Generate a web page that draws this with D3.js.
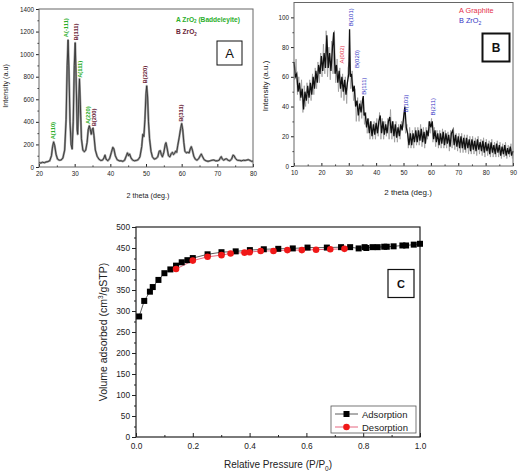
<!DOCTYPE html>
<html><head><meta charset="utf-8">
<script src="https://cdn.jsdelivr.net/npm/d3@7"></script>
<style>
body{margin:0;background:#fff;}
svg{display:block;font-family:"Liberation Sans",Arial,sans-serif;}
.tick text{font-family:"Liberation Sans",Arial,sans-serif;fill:#222;}
</style></head>
<body><svg id="c" width="520" height="475"></svg>
<script>
// ---------- Panel A : XRD ZrO2 ----------
const aTheta = [20.0,20.5,21.0,21.5,22.0,22.5,23.0,23.5,23.8,24.1,24.4,24.8,25.2,25.7,26.2,26.7,27.2,27.6,27.9,28.15,28.4,28.7,29.0,29.3,29.6,29.9,30.15,30.4,30.7,30.85,31.1,31.35,31.6,31.9,32.3,32.7,33.1,33.5,33.8,34.1,34.4,34.65,34.9,35.15,35.4,35.8,36.3,36.8,37.3,37.8,38.2,38.5,38.8,39.3,39.8,40.3,40.7,41.0,41.4,41.9,42.5,43.0,43.5,44.0,44.5,44.8,45.1,45.4,45.8,46.3,46.8,47.3,47.8,48.3,48.8,49.1,49.4,49.7,50.0,50.2,50.45,50.7,51.0,51.4,51.8,52.3,52.8,53.3,53.7,54.0,54.3,54.6,55.0,55.4,55.6,55.9,56.3,56.7,57.1,57.4,57.7,58.0,58.3,58.6,58.9,59.3,59.7,60.0,60.3,60.6,60.9,61.3,61.7,62.1,62.4,62.7,63.0,63.4,63.8,64.3,64.8,65.2,65.5,65.8,66.3,66.8,67.4,68.0,68.5,69.0,69.5,70.0,70.5,70.9,71.1,71.4,71.8,72.2,72.6,73.0,73.5,74.0,74.4,74.7,75.1,75.6,76.2,76.8,77.3,77.8,78.3,78.7,79.2,79.6,80.0];
const aIntensity = [40,35,42,38,45,48,55,100,180,222,190,110,70,60,62,80,150,420,900,1125,850,400,200,160,400,900,1100,800,330,290,550,780,550,250,150,135,150,220,330,365,330,290,330,345,280,150,95,70,58,60,80,105,70,55,75,130,175,160,100,65,55,55,50,60,100,125,100,115,80,60,55,58,65,90,180,290,270,420,650,718,620,400,250,140,90,70,75,90,140,145,110,90,130,200,215,170,100,90,120,130,110,120,140,130,190,260,340,385,330,220,140,125,130,125,160,180,150,95,70,60,75,100,115,95,65,55,50,55,60,62,55,55,60,85,92,70,60,70,72,60,55,70,105,100,75,60,58,55,60,58,62,65,58,50,52];
const aLabels = ["A(110)","A(-111)","B(111)","A(111)","A(220)","B(200)","B(220)","B(311)"];
const aLabelTheta = [23.9,27.5,30.4,31.6,33.6,35.4,49.6,59.8];
const aLabelInt = [245,1150,1120,790,380,360,740,400];
const aLabelPhase = ["A","A","B","A","A","B","B","B"];
const aLegend = ["A","B"];
const aYTicks = [0,200,400,600,800,1000,1200,1400];
const aXTicks = [20,30,40,50,60,70,80];

// ---------- Panel B : XRD composite ----------
const bTheta = [10.0,10.5,11.0,11.5,12.0,12.5,13.0,13.5,14.0,14.5,15.0,15.5,16.0,16.5,17.0,17.5,18.0,18.5,19.0,19.5,20.0,20.5,21.0,21.5,22.0,22.5,23.0,23.5,24.0,24.5,25.0,25.5,26.0,26.5,27.0,27.5,28.0,28.5,29.0,29.5,30.0,30.3,30.6,31.0,31.5,32.0,32.5,33.0,33.5,34.0,34.5,35.0,35.3,35.6,36.0,36.5,37.0,37.5,38.0,38.5,39.0,39.5,40.0,40.5,41.0,41.5,42.0,42.5,43.0,43.5,44.0,44.5,45.0,45.5,46.0,46.5,47.0,47.5,48.0,48.5,49.0,49.5,50.0,50.5,51.0,51.5,52.0,52.5,53.0,53.5,54.0,54.5,55.0,55.5,56.0,56.5,57.0,57.5,58.0,58.5,59.0,59.5,60.0,60.5,61.0,61.5,62.0,62.5,63.0,63.5,64.0,64.5,65.0,65.5,66.0,66.5,67.0,67.5,68.0,68.5,69.0,69.5,70.0,70.5,71.0,71.5,72.0,72.5,73.0,73.5,74.0,74.5,75.0,75.5,76.0,76.5,77.0,77.5,78.0,78.5,79.0,79.5,80.0,80.5,81.0,81.5,82.0,82.5,83.0,83.5,84.0,84.5,85.0,85.5,86.0,86.5,87.0,87.5,88.0,88.5,89.0,89.5,90.0];
const bIntensity = [70,60,62,50,56,46,52,38,50,44,54,46,56,48,60,52,64,56,68,62,74,64,76,66,88,66,76,64,78,90,62,68,56,64,52,60,50,58,48,56,62,92,60,62,50,54,40,44,34,42,36,44,47,34,36,26,32,22,30,20,28,21,29,22,30,34,22,30,21,28,22,30,33,22,30,20,28,19,26,20,28,24,32,40,26,22,14,22,14,22,16,24,16,24,17,25,16,23,15,24,20,30,26,30,18,24,16,22,14,22,15,23,14,22,15,21,13,22,24,14,21,13,20,12,20,12,19,11,19,12,18,10,18,11,17,10,18,11,16,10,17,9,16,10,15,8,16,9,14,8,15,9,14,7,13,8,14,7,12,8,13,7,10];
// lighter, spikier companion trace (grey)
const bThetaGrey = [10.25,10.75,11.25,11.75,12.25,12.75,13.25,13.75,14.25,14.75,15.25,15.75,16.25,16.75,17.25,17.75,18.25,18.75,19.25,19.75,20.25,20.75,21.25,21.75,22.25,22.75,23.25,23.75,24.25,24.75,25.25,25.75,26.25,26.75,27.25,27.75,28.25,28.75,29.25,29.75,30.25,30.75,31.25,31.75,32.25,32.75,33.25,33.75,34.25,34.75,35.25,35.75,36.25,36.75,37.25,37.75,38.25,38.75,39.25,39.75,40.25,40.75,41.25,41.75,42.25,42.75,43.25,43.75,44.25,44.75,45.25,45.75,46.25,46.75,47.25,47.75,48.25,48.75,49.25,49.75,50.25,50.75,51.25,51.75,52.25,52.75,53.25,53.75,54.25,54.75,55.25,55.75,56.25,56.75,57.25,57.75,58.25,58.75,59.25,59.75,60.25,60.75,61.25,61.75,62.25,62.75,63.25,63.75,64.25,64.75,65.25,65.75,66.25,66.75,67.25,67.75,68.25,68.75,69.25,69.75,70.25,70.75,71.25,71.75,72.25,72.75,73.25,73.75,74.25,74.75,75.25,75.75,76.25,76.75,77.25,77.75,78.25,78.75,79.25,79.75,80.25,80.75,81.25,81.75,82.25,82.75,83.25,83.75,84.25,84.75,85.25,85.75,86.25,86.75,87.25,87.75,88.25,88.75,89.25,89.75];
const bIntensityGrey = [58,72,48,60,44,58,36,54,40,56,42,58,44,62,48,66,52,70,56,76,60,82,62,91,60,80,58,84,62,91,56,72,50,66,46,62,44,60,42,66,70,52,64,44,52,30,46,30,44,32,46,28,36,22,32,18,30,18,30,18,32,20,36,18,32,18,30,20,32,18,38,18,30,16,30,16,28,18,30,26,36,22,28,12,26,12,24,12,26,14,26,14,28,13,26,12,26,18,30,22,32,16,26,13,24,12,24,12,25,12,24,12,23,10,24,12,26,11,22,10,22,9,22,9,21,9,21,8,20,8,20,8,19,7,20,8,18,7,19,6,18,7,17,6,18,6,16,6,17,6,16,5,15,6,16,5,14,6,15,5];
const bLabels = ["A(002)","B(101)","B(020)","B(111)","B(103)","B(211)"];
const bLabelTheta = [27.4,30.7,32.9,35.6,50.8,60.7];
const bLabelInt = [69,94,66,48,36,34];
const bLabelPhase = ["A","B","B","B","B","B"];
const bYTicks = [0,20,40,60,80,100];
const bXTicks = [10,20,30,40,50,60,70,80,90];

// ---------- Panel C : N2 isotherm ----------
const adsP = [0.011,0.029,0.049,0.059,0.079,0.100,0.121,0.141,0.161,0.181,0.200,0.252,0.301,0.351,0.401,0.450,0.501,0.552,0.604,0.672,0.722,0.754,0.784,0.805,0.811,0.833,0.851,0.874,0.883,0.907,0.938,0.951,0.978,1.000];
const adsV = [287,324,346,357,374,390,399,408,416,421,426,435,440,442,445,447,448,449,451,451,452,452,449,452,450,452,452,453,453,454,456,456,458,460];
const desP = [0.141,0.200,0.252,0.301,0.333,0.382,0.400,0.439,0.484,0.533,0.584,0.634,0.684,0.734];
const desV = [400,420,429,433,437,439,440,443,443,445,445,446,447,448];
const cSeries = ["Adsorption","Desorption"];
const cYTicks = [0,50,100,150,200,250,300,350,400,450,500];
const cXTicks = [0.0,0.2,0.4,0.6,0.8,1.0];

const svg = d3.select("#c");
const GREEN="#2aae2a", MAROON="#6a2538", RED="#e5304a", BLUE="#3434c4";

function frameAxes(g, x, y, o){
  const [x0,x1]=x.range(), [y1,y0]=y.range();
  g.append("g").attr("transform",`translate(0,${y1})`)
    .call(d3.axisBottom(x).tickValues(o.xMinor).tickSize(-o.minor).tickFormat(""))
    .call(s=>s.select(".domain").remove()).selectAll("line").attr("stroke","#222");
  g.append("g").attr("transform",`translate(${x0},0)`)
    .call(d3.axisLeft(y).tickValues(o.yMinor).tickSize(o.minor).tickFormat(""))
    .call(s=>s.select(".domain").remove()).selectAll("line").attr("stroke","#222");
  const xa = g.append("g").attr("transform",`translate(0,${y1})`)
    .call(d3.axisBottom(x).tickValues(o.xTicks).tickSize(-o.major).tickPadding(o.major+o.pad).tickFormat(o.xFmt));
  xa.select(".domain").remove();
  xa.selectAll("text").attr("font-size",o.fs).attr("fill","#222");
  xa.selectAll("line").attr("stroke","#222");
  const ya = g.append("g").attr("transform",`translate(${x0},0)`)
    .call(d3.axisLeft(y).tickValues(o.yTicks).tickSize(o.major).tickPadding(o.pad).tickFormat(o.yFmt||d3.format("d")));
  ya.select(".domain").remove();
  ya.selectAll("text").attr("font-size",o.fs).attr("fill","#222");
  ya.selectAll("line").attr("stroke","#222");
  g.append("rect").attr("x",x0).attr("y",y0).attr("width",x1-x0).attr("height",y1-y0)
    .attr("fill","none").attr("stroke",o.frame||"#333").attr("stroke-width",o.fw||1);
}

// ===== Panel A =====
{
  const g = svg.append("g");
  const x = d3.scaleLinear().domain([20,80]).range([39,253]);
  const y = d3.scaleLinear().domain([0,1400]).range([167,9]);
  const line = d3.line().x(i=>x(aTheta[i])).y(i=>y(aIntensity[i]));
  g.append("path").attr("d",line(d3.range(aTheta.length))).attr("fill","none")
    .attr("stroke","#999").attr("stroke-width",2.2).attr("stroke-linejoin","round");
  g.append("path").attr("d",line(d3.range(aTheta.length))).attr("fill","none")
    .attr("stroke","#333").attr("stroke-width",0.9).attr("stroke-linejoin","round");
  frameAxes(g,x,y,{xTicks:aXTicks,yTicks:aYTicks,xMinor:d3.range(25,80,10),yMinor:d3.range(100,1400,200),
    major:3,minor:1.5,pad:2,fs:6.3,xFmt:d3.format("d"),frame:"#666"});
  g.append("text").attr("x",148).attr("y",198).attr("text-anchor","middle").attr("font-size",7.2).attr("fill","#222").text("2 theta (deg.)");
  g.append("text").attr("transform","translate(8,86) rotate(-90)").attr("text-anchor","middle").attr("font-size",7.2).attr("fill","#222").text("Intensity (a.u)");
  aLabels.forEach((t,i)=>{
    g.append("text").attr("transform",`translate(${x(aLabelTheta[i])+2},${y(aLabelInt[i])}) rotate(-90)`)
      .attr("font-size",5.8).attr("font-weight","bold").attr("fill",aLabelPhase[i]==="A"?GREEN:MAROON).text(t);
  });
  const la = g.append("text").attr("x",176).attr("y",21.5).attr("font-size",6.6).attr("font-weight","bold").attr("fill",GREEN);
  la.append("tspan").text(aLegend[0]+"  ZrO");
  la.append("tspan").attr("font-size",4.5).attr("dy",1.8).text("2");
  la.append("tspan").attr("dy",-1.8).text(" (Baddeleyite)");
  const lb = g.append("text").attr("x",176).attr("y",34).attr("font-size",6.6).attr("font-weight","bold").attr("fill",MAROON);
  lb.append("tspan").text(aLegend[1]+"  ZrO");
  lb.append("tspan").attr("font-size",4.5).attr("dy",1.8).text("2");
  g.append("rect").attr("x",217).attr("y",41).attr("width",25).attr("height",24).attr("fill","#fff").attr("stroke","#111").attr("stroke-width",1);
  g.append("text").attr("x",229.5).attr("y",58).attr("text-anchor","middle").attr("font-size",13).attr("fill","#111").text("A");
}

// ===== Panel B =====
{
  const g = svg.append("g");
  const x = d3.scaleLinear().domain([10,90]).range([294,513]);
  const y = d3.scaleLinear().domain([0,110]).range([166,2.5]);
  const greyLine = d3.line().x(i=>x(bThetaGrey[i])).y(i=>y(bIntensityGrey[i]));
  g.append("path").attr("d",greyLine(d3.range(bThetaGrey.length))).attr("fill","none")
    .attr("stroke","#9a9a9a").attr("stroke-width",0.8);
  const line = d3.line().x(i=>x(bTheta[i])).y(i=>y(bIntensity[i]));
  g.append("path").attr("d",line(d3.range(bTheta.length))).attr("fill","none")
    .attr("stroke","#111").attr("stroke-width",1.3);
  frameAxes(g,x,y,{xTicks:bXTicks,yTicks:bYTicks,xMinor:d3.range(15,90,10),yMinor:d3.range(10,110,20),
    major:3,minor:1.5,pad:2,fs:6.3,xFmt:d3.format("d"),frame:"#666"});
  g.append("text").attr("x",408).attr("y",195).attr("text-anchor","middle").attr("font-size",8).attr("fill","#222").text("2 theta (deg.)");
  g.append("text").attr("transform","translate(268,86) rotate(-90)").attr("text-anchor","middle").attr("font-size",8).attr("fill","#222").text("Intensity (a.u.)");
  bLabels.forEach((t,i)=>{
    g.append("text").attr("transform",`translate(${x(bLabelTheta[i])+2},${y(bLabelInt[i])}) rotate(-90)`)
      .attr("font-size",6).attr("fill",bLabelPhase[i]==="A"?RED:BLUE).text(t);
  });
  g.append("text").attr("x",459).attr("y",12.5).attr("font-size",7.3).attr("fill",RED).text("A Graphite");
  const lb = g.append("text").attr("x",459).attr("y",23).attr("font-size",7.3).attr("fill",BLUE);
  lb.append("tspan").text("B  ZrO");
  lb.append("tspan").attr("font-size",5).attr("dy",2).text("2");
  g.append("rect").attr("x",482.5).attr("y",33.5).attr("width",27).attr("height",28).attr("fill","#fff").attr("stroke","#111").attr("stroke-width",2);
  g.append("text").attr("x",496).attr("y",52).attr("text-anchor","middle").attr("font-size",12).attr("font-weight","bold").attr("fill","#111").text("B");
}

// ===== Panel C =====
{
  const g = svg.append("g");
  const x = d3.scaleLinear().domain([0,1]).range([136,420]);
  const y = d3.scaleLinear().domain([0,500]).range([437,227]);
  frameAxes(g,x,y,{xTicks:cXTicks,yTicks:cYTicks,xMinor:[0.1,0.3,0.5,0.7,0.9],yMinor:d3.range(25,500,50),
    major:4,minor:2,pad:2,fs:8.3,xFmt:d3.format(".1f"),frame:"#222",fw:1.2});
  const adsLine = d3.line().x(i=>x(adsP[i])).y(i=>y(adsV[i]));
  const desLine = d3.line().x(i=>x(desP[i])).y(i=>y(desV[i]));
  g.append("path").attr("d",desLine(d3.range(desP.length))).attr("fill","none").attr("stroke","#e04060").attr("stroke-width",0.8);
  g.append("path").attr("d",adsLine(d3.range(adsP.length))).attr("fill","none").attr("stroke","#333").attr("stroke-width",0.8);
  g.selectAll(".ads").data(d3.range(adsP.length)).join("rect")
    .attr("x",i=>x(adsP[i])-3).attr("y",i=>y(adsV[i])-3).attr("width",6).attr("height",6).attr("fill","#000");
  g.selectAll(".des").data(d3.range(desP.length)).join("circle")
    .attr("cx",i=>x(desP[i])).attr("cy",i=>y(desV[i])).attr("r",3.3).attr("fill","#f01818");
  const xl = g.append("text").attr("x",278).attr("y",468).attr("text-anchor","middle").attr("font-size",10).attr("fill","#222");
  xl.append("tspan").text("Relative Pressure (P/P");
  xl.append("tspan").attr("font-size",6.5).attr("dy",2.5).text("0");
  xl.append("tspan").attr("dy",-2.5).text(")");
  const yl = g.append("text").attr("transform","translate(107,332) rotate(-90)").attr("text-anchor","middle").attr("font-size",10.5).attr("fill","#222");
  yl.append("tspan").text("Volume adsorbed (cm");
  yl.append("tspan").attr("font-size",6.5).attr("dy",-4).text("3");
  yl.append("tspan").attr("dy",4).text("/gSTP)");
  g.append("rect").attr("x",388).attr("y",269.5).attr("width",26).attr("height",28).attr("fill","#fff").attr("stroke","#111").attr("stroke-width",1.2);
  g.append("text").attr("x",401).attr("y",288).attr("text-anchor","middle").attr("font-size",11).attr("font-weight","bold").attr("fill","#111").text("C");
  g.append("rect").attr("x",331).attr("y",406).attr("width",85).attr("height",27).attr("fill","#fff").attr("stroke","#555").attr("stroke-width",0.8);
  g.append("line").attr("x1",335).attr("x2",358).attr("y1",414).attr("y2",414).attr("stroke","#333").attr("stroke-width",0.8);
  g.append("rect").attr("x",343.5).attr("y",411).attr("width",6).attr("height",6).attr("fill","#000");
  g.append("line").attr("x1",335).attr("x2",358).attr("y1",427).attr("y2",427).attr("stroke","#e04060").attr("stroke-width",0.8);
  g.append("circle").attr("cx",346.5).attr("cy",427).attr("r",3.3).attr("fill","#f01818");
  cSeries.forEach((s,i)=>g.append("text").attr("x",362).attr("y",418+i*12.8).attr("font-size",9.5).attr("fill","#222").text(s));
}
</script></body></html>
